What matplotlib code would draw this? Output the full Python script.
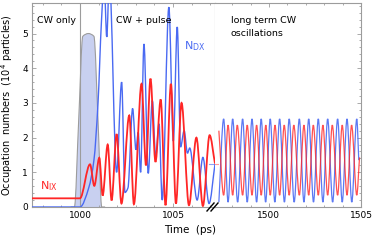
import numpy as np
import matplotlib
matplotlib.use('Agg')
import matplotlib.pyplot as plt
from matplotlib.path import Path
from matplotlib.patches import PathPatch
from matplotlib.lines import Line2D
from matplotlib.ticker import MultipleLocator

# ---- data (time in ps, occupation in 1e4 particles) ----
# first window: CW only / CW + pulse (peaks and valleys of each curve)
red_t1 = [997.4, 1000.0, 1000.54, 1000.77, 1001.04, 1001.22, 1001.49, 1001.70, 1001.97,
          1002.23, 1002.65, 1002.9, 1003.31, 1003.55, 1003.79, 1004.06, 1004.34, 1004.6,
          1004.89, 1005.16, 1005.46, 1005.86, 1006.26, 1006.61, 1006.97, 1007.26]
red_y1 = [0.25, 0.25, 1.23, 0.61, 1.42, 0.33, 1.8, 0.19, 2.1,
          0.1, 2.64, 0.08, 3.55, 1.2, 3.7, 1.3, 3.1, 0.05,
          3.55, 0.1, 3.0, 0.05, 2.0, 0.03, 2.07, 1.25]

blue_t1 = [997.4, 1000.0, 1000.48, 1000.75, 1000.97, 1001.15, 1001.3, 1001.44, 1001.58,
           1001.97, 1002.24, 1002.42, 1002.58, 1002.83, 1003.01, 1003.13, 1003.26, 1003.44,
           1003.67, 1003.89, 1004.07, 1004.25, 1004.42, 1004.78, 1005.02, 1005.23, 1005.41,
           1005.6, 1005.78, 1005.9, 1006.3, 1006.61, 1006.94, 1007.26]
blue_y1 = [0.0, 0.0, 0.57, 1.35, 3.0, 5.3, 6.5, 4.9, 6.6,
           1.0, 3.6, 0.42, 0.55, 2.84, 1.65, 2.15, 1.0, 4.7,
           0.97, 3.07, 1.43, 2.4, 0.2, 5.76, 1.9, 5.19, 1.73,
           2.2, 1.55, 1.7, 0.2, 1.43, 0.1, 1.24]

# pump pulse envelope
pulse_t = [999.5, 999.7, 999.93, 1000.15, 1000.45, 1000.75, 1000.97, 1001.17, 1001.35]
pulse_y = [0.0, 0.0, 2.5, 4.92, 5.0, 4.92, 2.5, 0.0, 0.0]

# second window: long term CW oscillations
red_t2 = [1497.28, 1497.54, 1497.78, 1498.03, 1498.28, 1498.57, 1498.82, 1499.08, 1499.33,
          1499.58, 1499.83, 1500.07, 1500.33, 1500.58, 1500.83, 1501.10, 1501.35, 1501.65,
          1501.9, 1502.16, 1502.41, 1502.68, 1502.93, 1503.19, 1503.44, 1503.73, 1503.98,
          1504.24, 1504.49, 1504.77, 1504.92]
red_y2 = [2.2, 0.34, 2.36, 0.34, 2.36, 0.34, 2.36, 0.34, 2.36,
          0.34, 2.36, 0.34, 2.36, 0.34, 2.36, 0.34, 2.36, 0.34,
          2.36, 0.34, 2.36, 0.34, 2.36, 0.34, 2.36, 0.34, 2.36,
          0.34, 2.36, 0.34, 1.43]

blue_t2 = [1497.28, 1497.54, 1497.78, 1498.03, 1498.3, 1498.57, 1498.82, 1499.08, 1499.33,
           1499.58, 1499.82, 1500.07, 1500.32, 1500.58, 1500.84, 1501.10, 1501.37, 1501.65,
           1501.9, 1502.16, 1502.42, 1502.68, 1502.93, 1503.19, 1503.46, 1503.73, 1503.98,
           1504.24, 1504.5, 1504.77, 1504.88]
blue_y2 = [0.14, 2.54, 0.14, 2.54, 0.14, 2.54, 0.14, 2.54, 0.14,
           2.54, 0.14, 2.54, 0.14, 2.54, 0.14, 2.54, 0.14, 2.54,
           0.14, 2.54, 0.14, 2.54, 0.14, 2.54, 0.14, 2.54, 0.14,
           2.54, 0.14, 2.54, 1.35]

RED = '#ff2626'
BLUE = '#4a6af2'
GRAY = '#9c9c9c'


def smooth_path(ts, ys):
    """bezier path through the given knots (shape preserving cubic tangents)"""
    ts = np.asarray(ts, float)
    ys = np.asarray(ys, float)
    h = np.diff(ts)
    d = np.diff(ys) / h
    m = np.zeros(len(ts))
    m[0], m[-1] = d[0], d[-1]
    for k in range(1, len(ts) - 1):
        if d[k - 1] * d[k] > 0:
            w1 = 2 * h[k] + h[k - 1]
            w2 = h[k] + 2 * h[k - 1]
            m[k] = (w1 + w2) / (w1 / d[k - 1] + w2 / d[k])
    verts = [(ts[0], ys[0])]
    codes = [Path.MOVETO]
    for k in range(len(h)):
        verts += [(ts[k] + h[k] / 3, ys[k] + m[k] * h[k] / 3),
                  (ts[k + 1] - h[k] / 3, ys[k + 1] - m[k + 1] * h[k] / 3),
                  (ts[k + 1], ys[k + 1])]
        codes += [Path.CURVE4] * 3
    return Path(verts, codes)


def draw_curve(ax, ts, ys, color, lw, alpha=1.0, z=3):
    ax.add_patch(PathPatch(smooth_path(ts, ys), fill=False, edgecolor=color,
                           lw=lw, alpha=alpha, zorder=z))


W, H = 374, 241
fig = plt.figure(figsize=(W / 100, H / 100), dpi=100)
bottom, top = 1 - 207 / H, 1 - 3 / H
ax1 = fig.add_axes([32 / W, bottom, (215 - 32) / W, top - bottom])
ax2 = fig.add_axes([215 / W, bottom, (361 - 215) / W, top - bottom])

ax1.set_xlim(997.42, 1007.26)
ax2.set_xlim(1497.07, 1505.0)
for ax in (ax1, ax2):
    ax.set_ylim(0, 5.88)
    ax.yaxis.set_major_locator(MultipleLocator(1))
    ax.yaxis.set_minor_locator(MultipleLocator(0.2))
    ax.xaxis.set_major_locator(MultipleLocator(5))
    ax.xaxis.set_minor_locator(MultipleLocator(1))
    for s in ax.spines.values():
        s.set_color(GRAY)
        s.set_linewidth(0.8)
    ax.tick_params(which='both', direction='in', color=GRAY, width=0.6,
                   labelsize=6.5, pad=3)
    ax.tick_params(which='major', length=3)
    ax.tick_params(which='minor', length=1.5)

ax1.tick_params(which='both', top=True, right=False)
ax2.tick_params(which='both', top=True, right=True, left=False, labelleft=False)
ax2.spines['left'].set_visible(False)

# pulse and the pulse onset line
ax1.add_patch(PathPatch(smooth_path(pulse_t, pulse_y), facecolor='#c8d0f0',
                        edgecolor=GRAY, lw=0.8, zorder=1))
ax1.axvline(1000, color=GRAY, lw=0.8, zorder=2)

draw_curve(ax1, blue_t1, blue_y1, BLUE, 1.0)
draw_curve(ax1, red_t1, red_y1, RED, 1.3)
draw_curve(ax2, blue_t2, blue_y2, BLUE, 0.9, 0.9)
draw_curve(ax2, red_t2, red_y2, RED, 0.9, 0.8)

# little joint marks at the break
ax1.plot([1006.95, 1007.26], [1.24, 1.24], color='#8fa2f5', lw=0.8, clip_on=False)
ax2.plot([1497.07, 1497.25], [1.24, 1.24], color='#ff9c9c', lw=0.8)

# break marks on the time axis
for x0 in (207, 211):
    fig.add_artist(Line2D([x0 / W, (x0 + 7) / W], [1 - 211 / H, 1 - 203 / H],
                          color='black', lw=1.0))

ax1.text(997.69, 5.38, 'CW only', fontsize=6.8, va='center')
ax1.text(1001.94, 5.38, 'CW + pulse', fontsize=6.8, va='center')
ax2.text(1497.93, 5.38, 'long term CW', fontsize=6.8, va='center')
ax2.text(1497.93, 5.0, 'oscillations', fontsize=6.8, va='center')
ax1.text(1005.59, 4.63, r'$\mathregular{N_{DX}}$', fontsize=8, color=BLUE, va='center')
ax1.text(997.85, 0.6, r'$\mathregular{N_{IX}}$', fontsize=8, color=RED, va='center')

ax1.set_ylabel('Occupation  numbers  (10$^4$ particles)', fontsize=7, labelpad=5)
fig.text(190 / W, 1 - 230 / H, 'Time  (ps)', ha='center', va='center', fontsize=7.5)

fig.savefig('out.png', dpi=100)
